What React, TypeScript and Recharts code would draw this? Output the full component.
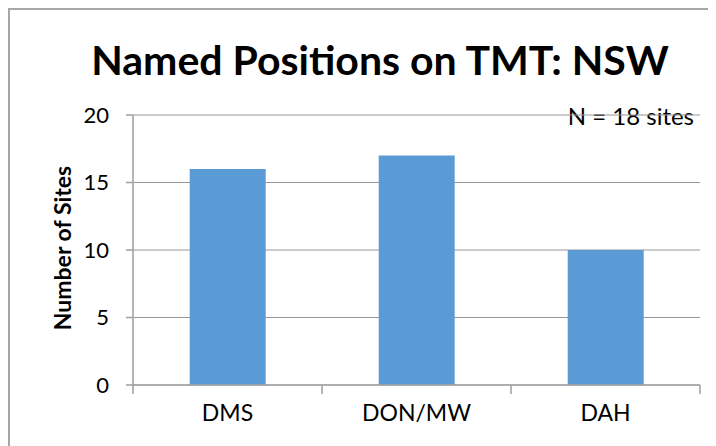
import { BarChart, Bar, XAxis, YAxis, CartesianGrid } from 'recharts'

const categories = ['DMS', 'DON/MW', 'DAH']
const siteCounts = [16, 17, 10]
const yTicks = [0, 5, 10, 15, 20]
// integer ticks = category boundaries, half ticks = category centres
const xTicks = [0, 0.5, 1, 1.5, 2, 2.5, 3]

const BAR_COLOR = '#5b9bd5'
const GRID_COLOR = '#979797'
const AXIS_COLOR = '#a3a3a3'
const FONT = 'Lato, "Open Sans", sans-serif'
const LABEL_GAP = 20

const data = categories.map((name, i) => ({ name, pos: i + 0.5, sites: siteCounts[i] }))

function CatTick(props: any) {
  const { x, y, payload } = props
  const v = Number(payload.value)
  const axisY = y - LABEL_GAP
  if (Number.isInteger(v)) {
    return <line x1={x} x2={x} y1={axisY} y2={axisY + 9} stroke={AXIS_COLOR} strokeWidth={1.6} />
  }
  return (
    <text x={x} y={y} dy="0.71em" textAnchor="middle" fill="#000" fontSize={23} fontFamily={FONT}>
      {categories[Math.floor(v)]}
    </text>
  )
}

export default function App() {
  return (
    <div style={{ position: 'relative', width: 708, height: 438, fontFamily: FONT, background: '#fff' }}>
      {/* frame: only top + left edges show in the picture */}
      <div style={{ position: 'absolute', left: 0, top: 0, width: 708, height: 2, background: '#a6a6a6' }} />
      <div style={{ position: 'absolute', left: 0, top: 0, width: 2, height: 438, background: '#a6a6a6' }} />

      <div style={{
        position: 'absolute', left: 0, top: 27, width: 744, textAlign: 'center',
        fontSize: 41, fontWeight: 700, color: '#000', lineHeight: '50px',
      }}>
        Named Positions on TMT: NSW
      </div>

      <div style={{
        position: 'absolute', left: 54, top: 240, width: 240, marginLeft: -120, textAlign: 'center',
        transform: 'rotate(-90deg)', fontSize: 23, fontWeight: 700, color: '#000', lineHeight: '24px', marginTop: -12,
      }}>
        Number of Sites
      </div>

      <div style={{ position: 'absolute', right: 22, top: 94, fontSize: 24, color: '#000', lineHeight: '28px' }}>
        N = 18 sites
      </div>

      <BarChart
        width={708}
        height={438}
        data={data}
        margin={{ top: 107, right: 16, left: 0, bottom: 0 }}
        barCategoryGap="30%"
      >
        <CartesianGrid horizontal vertical={false} stroke={GRID_COLOR} strokeWidth={1.2} />
        <XAxis
          dataKey="pos"
          type="number"
          domain={[0, 3]}
          ticks={xTicks}
          interval={0}
          stroke={AXIS_COLOR}
          strokeWidth={1.6}
          tickLine={false}
          tickSize={0}
          tickMargin={LABEL_GAP}
          height={61}
          tick={<CatTick />}
        />
        <YAxis
          domain={[0, 20]}
          ticks={yTicks}
          width={125}
          stroke={AXIS_COLOR}
          strokeWidth={1.6}
          tickSize={7}
          tickMargin={17}
          tick={{ fill: '#000', fontSize: 22, fontFamily: FONT }}
        />
        <Bar dataKey="sites" fill={BAR_COLOR} isAnimationActive={false} />
      </BarChart>
    </div>
  )
}
